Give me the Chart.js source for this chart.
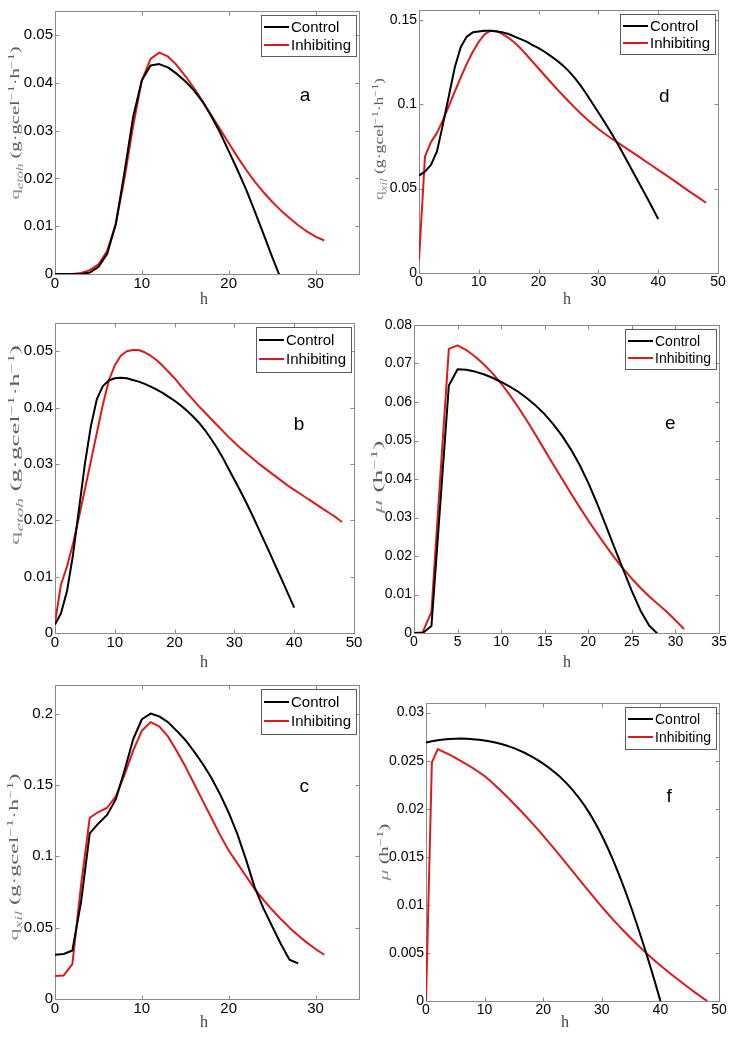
<!DOCTYPE html>
<html><head><meta charset="utf-8">
<script src="https://cdn.jsdelivr.net/npm/chart.js@4.4.1/dist/chart.umd.min.js"></script>
<style>
html,body{margin:0;padding:0;background:#fff;}
#wrap{position:relative;width:730px;height:1039px;overflow:hidden;}
#wrap canvas{position:absolute;}
</style>
</head><body><div id="wrap"></div>
<script>
// ---------- DATA ----------
const seriesNames = ['Control', 'Inhibiting'];

// panel a : q_etoh
const hoursA = [0,1,2,3,4,5,6,7,8,9,10,11,12,13,14,15,16,17,18,19,20,21,22,23,24,25,26,27,28,29,30,31];
const controlA = [0,0,0,0,0.0003,0.0015,0.0042,0.0104,0.0213,0.0329,0.0405,0.0436,0.0439,0.0432,0.0419,0.0403,0.0384,0.0360,0.0330,0.0296,0.0257,0.0218,0.0177,0.0131,0.0084,0.0036,-0.0010];
const inhibitingA = [0,0,0,0.0002,0.0008,0.0020,0.0048,0.0105,0.0200,0.0310,0.0405,0.0450,0.0463,0.0455,0.0437,0.0414,0.0389,0.0361,0.0332,0.0303,0.0274,0.0245,0.0218,0.0193,0.0171,0.0151,0.0133,0.0117,0.0102,0.0089,0.0078,0.0070];
const xTicksA = [0,10,20,30];
const xTickLabelsA = ['0','10','20','30'];
const yTicksA = [0,0.01,0.02,0.03,0.04,0.05];
const yTickLabelsA = ['0','0.01','0.02','0.03','0.04','0.05'];

// panel b : q_etoh
const hoursB = [0,1,2,3,4,5,6,7,8,9,10,11,12,13,14,15,16,17,18,19,20,21,22,23,24,25,26,27,28,29,30,31,32,33,34,35,36,37,38,39,40,41,42,43,44,45,46,47,48];
const controlB = [0.0015,0.0035,0.0074,0.0138,0.0219,0.0300,0.0367,0.0415,0.0438,0.0448,0.0452,0.0453,0.0452,0.0449,0.0446,0.0442,0.0437,0.0432,0.0426,0.0419,0.0412,0.0404,0.0395,0.0385,0.0374,0.0361,0.0346,0.0330,0.0312,0.0292,0.0272,0.0252,0.0231,0.0209,0.0186,0.0163,0.0140,0.0116,0.0093,0.0069,0.0045];
const inhibitingB = [0.0018,0.0086,0.0118,0.0158,0.0205,0.0255,0.0305,0.0355,0.0405,0.0448,0.0475,0.0492,0.0500,0.0502,0.0502,0.0498,0.0492,0.0484,0.0474,0.0463,0.0452,0.0439,0.0427,0.0415,0.0403,0.0392,0.0381,0.0370,0.0359,0.0348,0.0338,0.0328,0.0319,0.0310,0.0301,0.0293,0.0285,0.0277,0.0269,0.0261,0.0254,0.0247,0.0240,0.0233,0.0226,0.0219,0.0212,0.0205,0.0197];
const xTicksB = [0,10,20,30,40,50];
const xTickLabelsB = ['0','10','20','30','40','50'];
const yTicksB = [0,0.01,0.02,0.03,0.04,0.05];
const yTickLabelsB = ['0','0.01','0.02','0.03','0.04','0.05'];

// panel c : q_xil
const hoursC = [0,1,2,3,4,5,6,7,8,9,10,11,12,13,14,15,16,17,18,19,20,21,22,23,24,25,26,27,28,29,30,31];
const controlC = [0.031,0.0315,0.034,0.068,0.116,0.123,0.129,0.140,0.160,0.182,0.196,0.200,0.198,0.194,0.188,0.1815,0.1735,0.1648,0.155,0.1435,0.1305,0.1155,0.0975,0.078,0.0635,0.051,0.0385,0.0275,0.025];
const inhibitingC = [0.0162,0.0165,0.0245,0.080,0.127,0.131,0.134,0.142,0.157,0.174,0.188,0.194,0.191,0.184,0.174,0.163,0.151,0.139,0.127,0.115,0.104,0.095,0.086,0.077,0.0695,0.0625,0.056,0.050,0.0445,0.0395,0.035,0.031];
const xTicksC = [0,10,20,30];
const xTickLabelsC = ['0','10','20','30'];
const yTicksC = [0,0.05,0.1,0.15,0.2];
const yTickLabelsC = ['0','0.05','0.1','0.15','0.2'];

// panel d : q_xil
const hoursD = [0,1,2,3,4,5,6,7,8,9,10,11,12,13,14,15,16,17,18,19,20,21,22,23,24,25,26,27,28,29,30,31,32,33,34,35,36,37,38,39,40,41,42,43,44,45,46,47,48];
const controlD = [0.0577,0.060,0.064,0.072,0.088,0.105,0.122,0.134,0.140,0.1425,0.143,0.1435,0.1435,0.143,0.1425,0.1415,0.140,0.1385,0.137,0.135,0.1332,0.131,0.1286,0.126,0.1231,0.1197,0.1157,0.1111,0.106,0.1005,0.095,0.0895,0.0838,0.0778,0.0715,0.065,0.0585,0.052,0.0455,0.0388,0.032];
const inhibitingD = [0.0076,0.069,0.0775,0.083,0.0905,0.099,0.1075,0.116,0.124,0.131,0.137,0.1415,0.1435,0.1432,0.1415,0.1392,0.1363,0.1329,0.1291,0.1251,0.1211,0.1171,0.1131,0.1092,0.1054,0.1017,0.0981,0.0946,0.0913,0.0882,0.0853,0.0826,0.0801,0.0777,0.0754,0.0731,0.0707,0.0683,0.0659,0.0635,0.0611,0.0587,0.0563,0.0538,0.0513,0.0488,0.0464,0.044,0.0416];
const xTicksD = [0,10,20,30,40,50];
const xTickLabelsD = ['0','10','20','30','40','50'];
const yTicksD = [0,0.05,0.1,0.15];
const yTickLabelsD = ['0','0.05','0.1','0.15'];

// panel e : mu
const hoursE = [0,1,2,3,4,5,6,7,8,9,10,11,12,13,14,15,16,17,18,19,20,21,22,23,24,25,26,27,28,29,30,31];
const controlE = [0,0,0.0018,0.033,0.0643,0.0685,0.0684,0.0679,0.0672,0.0663,0.0652,0.064,0.0626,0.0609,0.059,0.0568,0.0542,0.0512,0.0477,0.0437,0.039,0.0337,0.028,0.0222,0.0165,0.0109,0.0058,0.0019,-0.0003];
const inhibitingE = [0,0.0002,0.0055,0.040,0.0738,0.0747,0.0735,0.0718,0.0698,0.0675,0.0648,0.0618,0.0585,0.055,0.0513,0.0475,0.0437,0.040,0.0363,0.0327,0.0292,0.0259,0.0227,0.0196,0.0167,0.0141,0.0117,0.0095,0.0075,0.0055,0.0033,0.0010];
const xTicksE = [0,5,10,15,20,25,30,35];
const xTickLabelsE = ['0','5','10','15','20','25','30','35'];
const yTicksE = [0,0.01,0.02,0.03,0.04,0.05,0.06,0.07,0.08];
const yTickLabelsE = ['0','0.01','0.02','0.03','0.04','0.05','0.06','0.07','0.08'];

// panel f : mu
const hoursF = [0,1,2,3,4,5,6,7,8,9,10,11,12,13,14,15,16,17,18,19,20,21,22,23,24,25,26,27,28,29,30,31,32,33,34,35,36,37,38,39,40,41,42,43,44,45,46,47,48];
const controlF = [0.0269,0.02703,0.02713,0.02721,0.02726,0.02729,0.0273,0.02728,0.02724,0.02717,0.0271,0.027,0.02687,0.02671,0.02652,0.0263,0.02605,0.02577,0.02545,0.02509,0.02469,0.02425,0.02377,0.02324,0.02264,0.02197,0.02122,0.02038,0.01944,0.01839,0.01722,0.01594,0.01455,0.01305,0.01145,0.00975,0.00796,0.00609,0.00415,0.00212,0];
const inhibitingF = [0,0.0248,0.0262,0.02592,0.02562,0.0253,0.02496,0.0246,0.02422,0.02382,0.0234,0.02288,0.02232,0.02174,0.02114,0.02052,0.01989,0.01924,0.01858,0.0179,0.0172,0.01648,0.01575,0.01501,0.01426,0.01351,0.01276,0.01201,0.01127,0.01053,0.0098,0.0091,0.00842,0.00776,0.00712,0.0065,0.0059,0.00532,0.00476,0.00422,0.0037,0.0032,0.00271,0.00223,0.00176,0.0013,0.00085,0.00041,0];
const xTicksF = [0,10,20,30,40,50];
const xTickLabelsF = ['0','10','20','30','40','50'];
const yTicksF = [0,0.005,0.01,0.015,0.02,0.025,0.03];
const yTickLabelsF = ['0','0.005','0.01','0.015','0.02','0.025','0.03'];

// axis titles
const xTitle = 'h';
const titleEtoh = [['q','n'],['etoh','sub'],[' (g·gcel','n2'],['−1','sup'],['·h','n2'],['−1','sup'],[')','n2']];
const titleXil  = [['q','n'],['xil','sub'],[' (g·gcel','n2'],['−1','sup'],['·h','n2'],['−1','sup'],[')','n2']];
const titleMu   = [['μ','it'],[' (h','n2'],['−1','sup'],[')','n2']];

// ---------- STYLE / LAYOUT ----------
const COLORS = ['#000000', '#dc1a1a'];
const SANS = '"Liberation Sans", Arial, sans-serif';
const SERIF = '"Liberation Serif", "DejaVu Serif", serif';

const panels = [
  {letter:'a', hours:hoursA, control:controlA, inhib:inhibitingA, xMax:35, yMax:0.055,
   xTicks:xTicksA, xLabels:xTickLabelsA, yTicks:yTicksA, yLabels:yTickLabelsA, title:titleEtoh,
   canvas:[0,0,365,312], area:[55,3,359,274], tick:15, leg:15, legH:41,
   letterAt:[28.8,0.0373], yT:[15,123,153], xT:[204,300]},
  {letter:'b', hours:hoursB, control:controlB, inhib:inhibitingB, xMax:50, yMax:0.055,
   xTicks:xTicksB, xLabels:xTickLabelsB, yTicks:yTicksB, yLabels:yTickLabelsB, title:titleEtoh,
   canvas:[0,312,365,362], area:[55,318,354,633], tick:15, leg:15, legH:45,
   letterAt:[40.8,0.037], yT:[15,445,200], xT:[204,663]},
  {letter:'c', hours:hoursC, control:controlC, inhib:inhibitingC, xMax:35, yMax:0.22,
   xTicks:xTicksC, xLabels:xTickLabelsC, yTicks:yTicksC, yLabels:yTickLabelsC, title:titleXil,
   canvas:[0,674,365,365], area:[55,683,359,999], tick:15, leg:15, legH:45,
   letterAt:[28.7,0.149], yT:[14,857,167], xT:[204,1023]},
  {letter:'d', hours:hoursD, control:controlD, inhib:inhibitingD, xMax:50, yMax:0.1555,
   xTicks:xTicksD, xLabels:xTickLabelsD, yTicks:yTicksD, yLabels:yTickLabelsD, title:titleXil,
   canvas:[365,0,365,312], area:[419,3,718,273], tick:14, leg:15, legH:40,
   letterAt:[41,0.1046], yT:[379,139,122], xT:[567,300]},
  {letter:'e', hours:hoursE, control:controlE, inhib:inhibitingE, xMax:35, yMax:0.08,
   xTicks:xTicksE, xLabels:xTickLabelsE, yTicks:yTicksE, yLabels:yTickLabelsE, title:titleMu,
   canvas:[365,312,365,362], area:[414,325,719,633], tick:14, leg:14, legH:40,
   letterAt:[29.4,0.0544], yT:[378,477,73], xT:[567,663]},
  {letter:'f', hours:hoursF, control:controlF, inhib:inhibitingF, xMax:50, yMax:0.031,
   xTicks:xTicksF, xLabels:xTickLabelsF, yTicks:yTicksF, yLabels:yTickLabelsF, title:titleMu,
   canvas:[365,674,365,365], area:[426,703,719,1001], tick:14, leg:14, legH:42,
   letterAt:[41.5,0.02125], yT:[384,852,57], xT:[565,1023]}
];

// ---------- PLUGIN (MATLAB-like frame, legend, labels) ----------
function segFont(kind, size) {
  if (kind === 'sub') return 'italic ' + (size*0.72).toFixed(1) + 'px ' + SERIF;
  if (kind === 'sup') return (size*0.68).toFixed(1) + 'px ' + SERIF;
  if (kind === 'it') return 'italic ' + size + 'px ' + SERIF;
  return size + 'px ' + SERIF;
}
function drawRichVertical(ctx, segs, cx, cy, span, size) {
  ctx.save();
  let total = 0;
  const widths = segs.map(([t,k]) => { ctx.font = segFont(k,size); const w = ctx.measureText(t).width; total += w; return w; });
  ctx.translate(cx, cy);
  ctx.rotate(-Math.PI/2);
  ctx.scale(span/total, 1);
  let x = -total/2;
  ctx.textBaseline = 'alphabetic';
  ctx.textAlign = 'left';
  segs.forEach(([t,k], i) => {
    ctx.font = segFont(k,size);
    let dy = size*0.32;
    if (k === 'sub') dy += size*0.28;
    if (k === 'sup') dy -= size*0.38;
    ctx.fillStyle = (k === 'n' || k === 'sub' || k === 'it') ? '#8c8c8c' : '#5e5e5e';
    ctx.fillText(t, x, dy);
    x += widths[i];
  });
  ctx.restore();
}

const matlabPlugin = {
  id: 'matlab',
  beforeDatasetsDraw(chart, args, o) {
    const {ctx, chartArea: ca, scales} = chart;
    ctx.save();
    ctx.strokeStyle = '#8a8a8a';
    ctx.lineWidth = 1;
    const l = Math.round(ca.left)+0.5, t = Math.round(ca.top)+0.5, r = Math.round(ca.right)+0.5, b = Math.round(ca.bottom)+0.5;
    ctx.strokeRect(l, t, r-l, b-t);
    ctx.beginPath();
    scales.x.ticks.forEach(tk => {
      const px = Math.round(scales.x.getPixelForValue(tk.value))+0.5;
      ctx.moveTo(px, b); ctx.lineTo(px, b-4);
      ctx.moveTo(px, t); ctx.lineTo(px, t+4);
    });
    scales.y.ticks.forEach(tk => {
      const py = Math.round(scales.y.getPixelForValue(tk.value))+0.5;
      ctx.moveTo(l, py); ctx.lineTo(l+4, py);
      ctx.moveTo(r, py); ctx.lineTo(r-4, py);
    });
    ctx.stroke();
    ctx.restore();
  },
  afterDraw(chart, args, o) {
    const {ctx, chartArea: ca, scales} = chart;
    ctx.save();
    // panel letter
    ctx.fillStyle = '#000';
    ctx.font = '19px ' + SANS;
    ctx.textAlign = 'center';
    ctx.textBaseline = 'middle';
    ctx.fillText(o.letter, scales.x.getPixelForValue(o.letterAt[0]), scales.y.getPixelForValue(o.letterAt[1]));
    // legend
    ctx.font = o.leg + 'px ' + SANS;
    const names = chart.data.datasets.map(d => d.label);
    const tw = Math.max(...names.map(n => ctx.measureText(n).width));
    const w = Math.round(3 + 25 + 2 + tw + 5), h = o.legH;
    const x0 = Math.round(ca.right - 3 - w), y0 = Math.round(ca.top + 4);
    ctx.fillStyle = '#fff';
    ctx.fillRect(x0, y0, w, h);
    ctx.strokeStyle = '#5a5a5a';
    ctx.lineWidth = 1;
    ctx.strokeRect(x0+0.5, y0+0.5, w, h);
    chart.data.datasets.forEach((d, i) => {
      const yy = Math.round(y0 + h*(i === 0 ? 0.29 : 0.72));
      ctx.strokeStyle = d.borderColor;
      ctx.lineWidth = 2;
      ctx.beginPath(); ctx.moveTo(x0+3, yy); ctx.lineTo(x0+28, yy); ctx.stroke();
      ctx.fillStyle = '#000';
      ctx.textAlign = 'left';
      ctx.textBaseline = 'middle';
      ctx.fillText(d.label, x0+30, yy+1);
    });
    // x title
    ctx.fillStyle = '#444';
    ctx.font = '16px ' + SERIF;
    ctx.textAlign = 'center';
    ctx.textBaseline = 'middle';
    ctx.fillText(o.xTitle, o.xT[0], o.xT[1]);
    // y title
    drawRichVertical(ctx, o.title, o.yT[0], o.yT[1], o.yT[2], 13);
    ctx.restore();
  }
};

// ---------- BUILD ----------
const wrap = document.getElementById('wrap');
panels.forEach(p => {
  const [cx, cy, cw, ch] = p.canvas;
  const [L, T, R, B] = p.area;
  const c = document.createElement('canvas');
  c.width = cw; c.height = ch;
  c.style.left = cx + 'px'; c.style.top = cy + 'px';
  c.style.width = cw + 'px'; c.style.height = ch + 'px';
  wrap.appendChild(c);
  const series = [p.control, p.inhib];
  new Chart(c, {
    type: 'line',
    data: {
      datasets: series.map((vals, si) => ({
        label: seriesNames[si],
        data: vals.map((v, i) => ({x: p.hours[i], y: v})),
        borderColor: COLORS[si],
        backgroundColor: COLORS[si],
        borderWidth: 2,
        pointRadius: 0,
        tension: 0,
        fill: false,
        borderJoinStyle: 'round'
      }))
    },
    options: {
      responsive: false,
      animation: false,
      events: [],
      devicePixelRatio: 1,
      layout: {autoPadding: false, padding: {left: 0, top: T - cy, right: cx + cw - R, bottom: 0}},
      plugins: {
        legend: {display: false},
        tooltip: {enabled: false},
        matlab: {letter: p.letter, letterAt: p.letterAt, leg: p.leg, legH: p.legH,
                 xTitle: xTitle, xT: [p.xT[0] - cx, p.xT[1] - cy],
                 title: p.title, yT: [p.yT[0] - cx, p.yT[1] - cy, p.yT[2]]}
      },
      scales: {
        x: {
          type: 'linear', min: 0, max: p.xMax,
          grid: {display: false, drawTicks: false},
          border: {display: false},
          afterBuildTicks: s => { s.ticks = p.xTicks.map(v => ({value: v})); },
          afterFit: s => { s.height = cy + ch - B; },
          ticks: {padding: 1, color: '#000', maxRotation: 0, autoSkip: false,
                  font: {family: SANS, size: p.tick},
                  callback: (v, i) => p.xLabels[i]}
        },
        y: {
          type: 'linear', min: 0, max: p.yMax,
          grid: {display: false, drawTicks: false},
          border: {display: false},
          afterBuildTicks: s => { s.ticks = p.yTicks.map(v => ({value: v})); },
          afterFit: s => { s.width = L - cx; },
          ticks: {padding: 2, color: '#000', autoSkip: false,
                  font: {family: SANS, size: p.tick},
                  callback: (v, i) => p.yLabels[i]}
        }
      }
    },
    plugins: [matlabPlugin]
  });
});
</script>
</body></html>
